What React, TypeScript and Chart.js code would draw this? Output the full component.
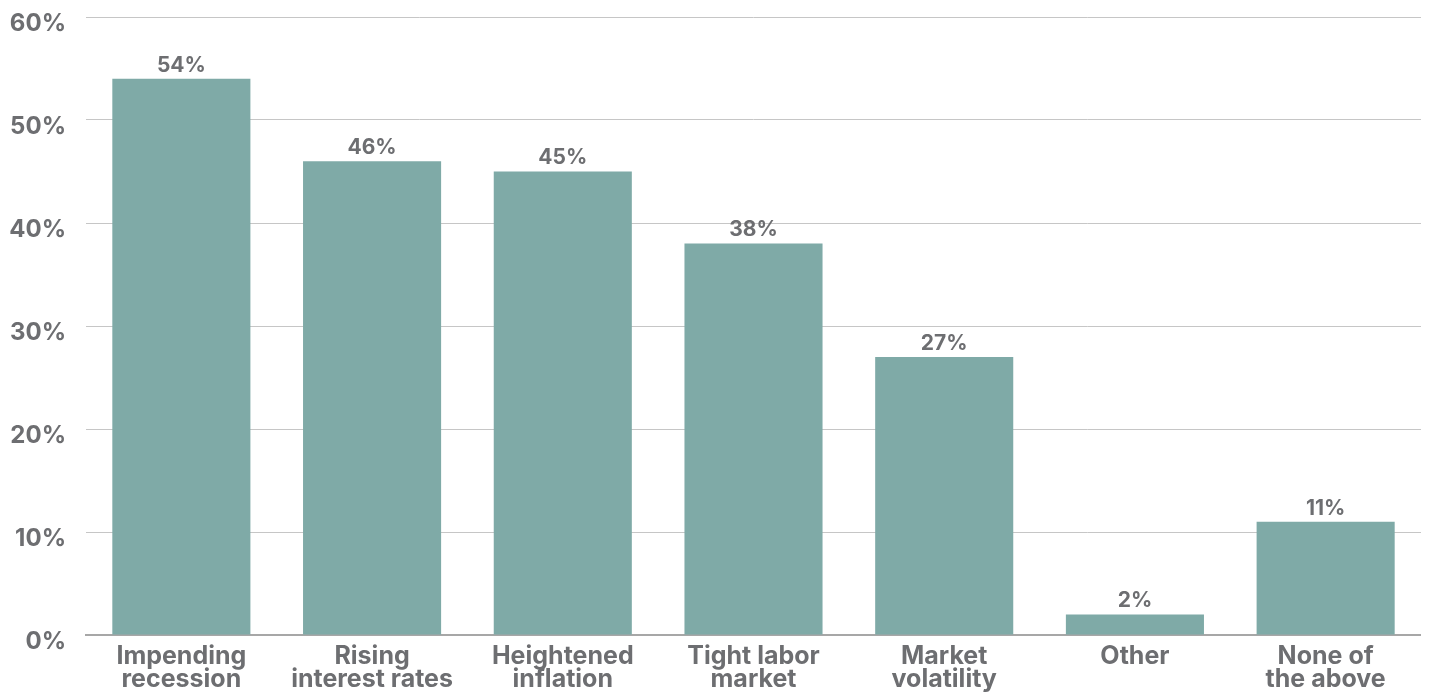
import React, { useEffect, useRef } from "react";
import { Chart, registerables } from "chart.js";

Chart.register(...registerables);

const categories: string[][] = [
  ["Impending", "recession"],
  ["Rising", "interest rates"],
  ["Heightened", "inflation"],
  ["Tight labor", "market"],
  ["Market", "volatility"],
  ["Other"],
  ["None of", "the above"],
];
const values: number[] = [54, 46, 45, 38, 27, 2, 11];
const yTicks: number[] = [0, 10, 20, 30, 40, 50, 60];

const TEXT = "#6d6e71";
const BAR = "#7faaa7";
const FONT = "Inter, 'Noto Sans', sans-serif";

const dataLabelPlugin = {
  id: "dataLabels",
  afterDatasetsDraw(chart: any) {
    const ctx = chart.ctx;
    const meta = chart.getDatasetMeta(0);
    ctx.save();
    ctx.font = `bold 21px ${FONT}`;
    ctx.fillStyle = TEXT;
    ctx.textAlign = "center";
    ctx.textBaseline = "bottom";
    meta.data.forEach((el: any, i: number) => {
      ctx.fillText(`${values[i]}%`, el.x, el.y - 3);
    });
    ctx.restore();
  },
};

export default function App() {
  const ref = useRef<HTMLCanvasElement>(null);
  useEffect(() => {
    if (!ref.current) return;
    const chart = new Chart(ref.current, {
      type: "bar",
      data: {
        labels: categories,
        datasets: [
          {
            data: values,
            backgroundColor: BAR,
            barPercentage: 0.724,
            categoryPercentage: 1,
          },
        ],
      },
      options: {
        animation: false,
        responsive: true,
        maintainAspectRatio: false,
        layout: { padding: { top: 9, right: 0, left: 0, bottom: 0 } },
        plugins: { legend: { display: false }, tooltip: { enabled: false } },
        scales: {
          x: {
            grid: { display: false },
            border: { color: "#a7a7a7", width: 2 },
            afterFit: (axis: any) => {
              axis.height = 57;
              axis.paddingLeft = 0;
              axis.paddingRight = 0;
            },
            ticks: {
              color: TEXT,
              font: { family: FONT, size: 25, weight: "bold", lineHeight: 0.92 },
              padding: 2,
              maxRotation: 0,
              autoSkip: false,
            },
          },
          y: {
            min: 0,
            max: 60,
            afterBuildTicks: (axis: any) => {
              axis.ticks = yTicks.map((v) => ({ value: v }));
            },
            afterFit: (axis: any) => {
              axis.width = 78;
              axis.paddingTop = 0;
              axis.paddingBottom = 0;
            },
            grid: { color: "#c6c6c6", lineWidth: 1, drawTicks: false },
            border: { display: false },
            ticks: {
              color: TEXT,
              font: { family: FONT, size: 24, weight: "bold" },
              padding: 20,
              labelOffset: 7,
              callback: (v: any) => `${v}%`,
            },
          },
        },
      },
      plugins: [dataLabelPlugin],
    });
    return () => chart.destroy();
  }, []);
  return (
    <div style={{ width: "100%", height: "684px", position: "relative" }}>
      <canvas ref={ref} />
    </div>
  );
}
